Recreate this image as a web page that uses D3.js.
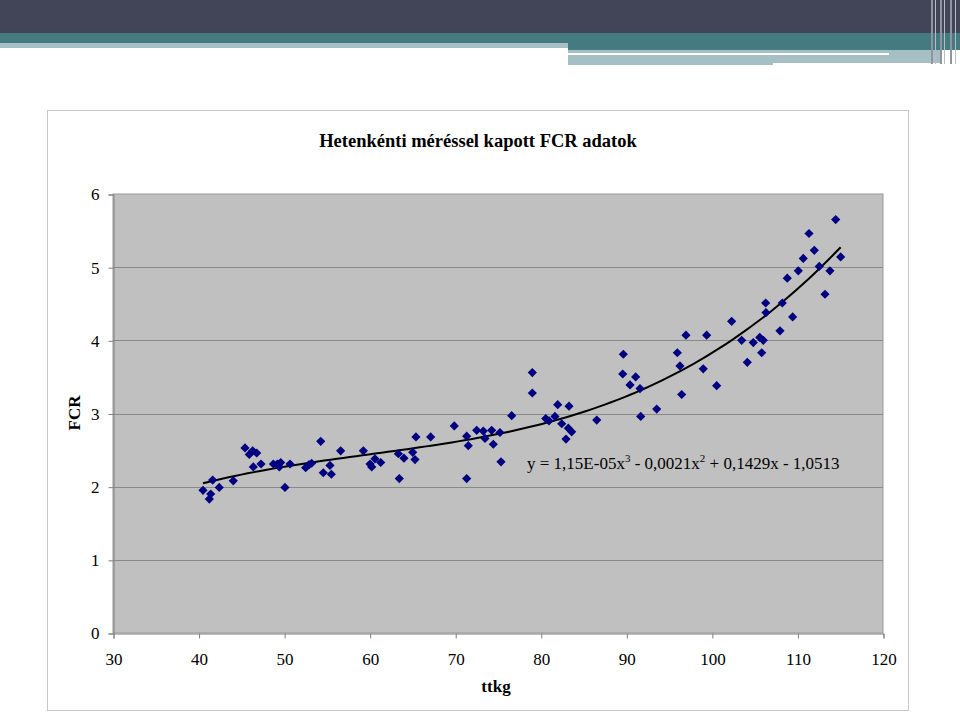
<!DOCTYPE html>
<html>
<head>
<meta charset="utf-8">
<script src="https://cdn.jsdelivr.net/npm/d3@7"></script>
<style>
	body { margin: 0; background: #fff; }
	svg { display: block; }
</style>
</head>
<body>
<svg id="chart" width="960" height="714"></svg>
<script>
// ttkg values
var ttkg = [
	  40.52, 41.26, 41.42, 41.65, 42.42, 44.06, 45.43, 45.93, 46.33, 46.80
	, 46.40, 47.30, 48.74, 49.20, 49.60, 49.44, 50.10, 50.69, 52.52, 52.91
	, 53.22, 54.28, 54.58, 55.36, 55.52, 56.61, 59.26, 60.04, 60.24, 60.62
	, 61.29, 63.46, 63.35, 64.01, 65.03, 65.30, 65.41, 67.13, 69.89, 71.34
	, 71.53, 71.34, 72.51, 73.28, 73.48, 74.26, 74.45, 75.23, 75.35, 76.60
	, 79.01, 79.01, 80.58, 80.96, 81.66, 81.98, 82.45, 83.30, 83.22, 83.61
	, 82.95, 86.54, 89.65, 89.58, 90.43, 91.09, 91.60, 91.68, 93.55, 95.96
	, 96.97, 96.27, 96.47, 98.99, 99.39, 100.56, 102.31, 103.48, 104.14, 104.84
	, 105.59, 106.01, 105.82, 106.29, 106.32, 107.96, 108.23, 109.44, 108.81, 110.10
	, 110.68, 111.35, 111.97, 112.55, 113.22, 113.80, 114.47, 115.05
];
// FCR values, same order
var fcr = [
	  1.95, 1.83, 1.90, 2.09, 1.99, 2.08, 2.53, 2.44, 2.49, 2.46
	, 2.27, 2.31, 2.31, 2.31, 2.33, 2.27, 1.99, 2.31, 2.26, 2.30
	, 2.32, 2.62, 2.19, 2.29, 2.17, 2.49, 2.49, 2.31, 2.27, 2.38
	, 2.33, 2.11, 2.45, 2.39, 2.47, 2.37, 2.68, 2.68, 2.83, 2.69
	, 2.56, 2.11, 2.77, 2.76, 2.66, 2.77, 2.58, 2.74, 2.34, 2.97
	, 3.56, 3.28, 2.93, 2.90, 2.96, 3.12, 2.86, 3.10, 2.80, 2.75
	, 2.65, 2.91, 3.81, 3.54, 3.39, 3.50, 3.34, 2.96, 3.06, 3.83
	, 4.07, 3.65, 3.26, 3.61, 4.07, 3.38, 4.26, 4.00, 3.70, 3.97
	, 4.04, 4.00, 3.83, 4.51, 4.38, 4.13, 4.51, 4.32, 4.85, 4.95
	, 5.12, 5.46, 5.23, 5.01, 4.63, 4.95, 5.65, 5.14
];
var xTicks   = [ 30, 40, 50, 60, 70, 80, 90, 100, 110, 120 ];
var yTicks   = [ 0, 1, 2, 3, 4, 5, 6 ];
var title    = 'Hetenkénti méréssel kapott FCR adatok';
var xTitle   = 'ttkg';
var yTitle   = 'FCR';

var W = 960, H = 714;
var PL = { left: 113, top: 194, right: 883, bottom: 633 }; // plot area
var SERIF = 'Liberation Serif, Times New Roman, serif';
var svg = d3.select( '#chart' );

// slide header bands
var hdr = svg.append( 'g' );
hdr.append( 'rect' ).attr( 'x', 0 ).attr( 'y', 0 ).attr( 'width', W ).attr( 'height', 33 ).attr( 'fill', '#424457' );
hdr.append( 'rect' ).attr( 'x', 0 ).attr( 'y', 33 ).attr( 'width', 568 ).attr( 'height', 10 ).attr( 'fill', '#437b81' );
hdr.append( 'rect' ).attr( 'x', 0 ).attr( 'y', 43 ).attr( 'width', 568 ).attr( 'height', 5 ).attr( 'fill', '#a6bfc4' );
hdr.append( 'rect' ).attr( 'x', 568 ).attr( 'y', 33 ).attr( 'width', W - 568 ).attr( 'height', 17 ).attr( 'fill', '#437b81' );
hdr.append( 'rect' ).attr( 'x', 568 ).attr( 'y', 50 ).attr( 'width', 321 ).attr( 'height', 3 ).attr( 'fill', '#a6bfc4' );
hdr.append( 'rect' ).attr( 'x', 889 ).attr( 'y', 50 ).attr( 'width', 51 ).attr( 'height', 13 ).attr( 'fill', '#a6bfc4' );
hdr.append( 'rect' ).attr( 'x', 568 ).attr( 'y', 55 ).attr( 'width', 205 ).attr( 'height', 10 ).attr( 'fill', '#a6bfc4' );
hdr.append( 'rect' ).attr( 'x', 773 ).attr( 'y', 55 ).attr( 'width', 167 ).attr( 'height', 8 ).attr( 'fill', '#a6bfc4' );
[ 931, 935, 940, 944, 950, 955 ].forEach( function( x, i ) { // vertical stripes at the right
	hdr.append( 'rect' ).attr( 'x', x ).attr( 'y', 0 ).attr( 'width', i % 2 ? 1 : 2 ).attr( 'height', 64 )
		.attr( 'fill', i % 2 ? '#b7bcc4' : '#8f94a0' );
} );

// chart frame
svg.append( 'rect' )
	.attr( 'x', 47.5 ).attr( 'y', 110.5 ).attr( 'width', 861 ).attr( 'height', 600 )
	.attr( 'fill', '#fff' ).attr( 'stroke', '#c8c8c8' );

svg.append( 'text' )
	.attr( 'x', 478 ).attr( 'y', 147 )
	.attr( 'text-anchor', 'middle' )
	.style( 'font-family', SERIF ).style( 'font-size', '18.5px' ).style( 'font-weight', 'bold' )
	.text( title );

var x = d3.scaleLinear().domain( [ 30, 120 ] ).range( [ PL.left, PL.right ] );
var y = d3.scaleLinear().domain( [ 0, 6 ] ).range( [ PL.bottom, PL.top ] );

// plot area + gridlines
svg.append( 'rect' )
	.attr( 'x', PL.left ).attr( 'y', PL.top )
	.attr( 'width', PL.right - PL.left ).attr( 'height', PL.bottom - PL.top )
	.attr( 'fill', '#c0c0c0' ).attr( 'stroke', '#9a9a9a' );
svg.append( 'g' )
	.selectAll( 'line' )
	.data( yTicks.filter( d => d > 0 && d < 6 ) )
	.join( 'line' )
	.attr( 'x1', PL.left ).attr( 'x2', PL.right )
	.attr( 'y1', d => Math.round( y( d ) ) + 0.5 ).attr( 'y2', d => Math.round( y( d ) ) + 0.5 )
	.attr( 'stroke', '#8a8a8a' );

// axes
var yAxis = svg.append( 'g' )
	.attr( 'transform', 'translate(' + ( PL.left + 0.5 ) + ',0.5)' )
	.call( d3.axisLeft( y ).tickValues( yTicks ).tickSize( 5 ).tickPadding( 9 ).tickFormat( d3.format( 'd' ) ) );
var xAxis = svg.append( 'g' )
	.attr( 'transform', 'translate(0.5,' + ( PL.bottom + 0.5 ) + ')' )
	.call( d3.axisBottom( x ).tickValues( xTicks ).tickSize( 5 ).tickPadding( 14 ).tickFormat( d3.format( 'd' ) ) );
[ yAxis, xAxis ].forEach( function( g ) {
	g.attr( 'font-family', null ).attr( 'font-size', null );
	g.select( '.domain' ).attr( 'stroke', '#808080' );
	g.selectAll( '.tick line' ).attr( 'stroke', '#808080' );
	g.selectAll( 'text' )
		.style( 'font-family', SERIF )
		.style( 'font-size', '17px' ).attr( 'fill', '#000' );
} );

svg.append( 'text' )
	.attr( 'x', 496 ).attr( 'y', 692 )
	.attr( 'text-anchor', 'middle' )
	.style( 'font-family', SERIF ).style( 'font-size', '17px' ).style( 'font-weight', 'bold' )
	.text( xTitle );
svg.append( 'text' )
	.attr( 'transform', 'translate(80,413) rotate(-90)' )
	.attr( 'text-anchor', 'middle' )
	.style( 'font-family', SERIF ).style( 'font-size', '17px' ).style( 'font-weight', 'bold' )
	.text( yTitle );

// cubic least squares trendline from the points
function cubicFit( xs, ys ) {
	var c = 80, n = 4, A = [], i, j, k;
	for ( i = 0; i < n; i++ ) { A.push( [] ); for ( j = 0; j <= n; j++ ) A[ i ].push( 0 ); }
	xs.forEach( function( xv, p ) {
		var t = xv - c;
		for ( i = 0; i < n; i++ ) {
			for ( j = 0; j < n; j++ ) A[ i ][ j ] += Math.pow( t, i + j );
			A[ i ][ n ] += Math.pow( t, i ) * ys[ p ];
		}
	} );
	for ( i = 0; i < n; i++ ) {
		for ( k = i + 1; k < n; k++ ) {
			var f = A[ k ][ i ] / A[ i ][ i ];
			for ( j = i; j <= n; j++ ) A[ k ][ j ] -= f * A[ i ][ j ];
		}
	}
	var b = [ 0, 0, 0, 0 ];
	for ( i = n - 1; i >= 0; i-- ) {
		var s = A[ i ][ n ];
		for ( j = i + 1; j < n; j++ ) s -= A[ i ][ j ] * b[ j ];
		b[ i ] = s / A[ i ][ i ];
	}
	return function( xv ) { var t = xv - c; return b[ 0 ] + b[ 1 ] * t + b[ 2 ] * t * t + b[ 3 ] * t * t * t; };
}
var fit  = cubicFit( ttkg, fcr );
var x0   = d3.min( ttkg ), x1 = d3.max( ttkg );
var line = d3.line().x( d => x( d ) ).y( d => y( fit( d ) ) );
svg.append( 'path' )
	.datum( d3.range( 0, 101 ).map( i => x0 + ( x1 - x0 ) * i / 100 ) )
	.attr( 'd', line )
	.attr( 'fill', 'none' ).attr( 'stroke', '#000' ).attr( 'stroke-width', 2 );

// diamonds
var pts = ttkg.map( ( d, i ) => [ d, fcr[ i ] ] );
var r = 4.6;
svg.append( 'g' )
	.selectAll( 'path' )
	.data( pts )
	.join( 'path' )
	.attr( 'd', 'M0,' + -r + 'L' + r + ',0L0,' + r + 'L' + -r + ',0Z' )
	.attr( 'transform', d => 'translate(' + x( d[ 0 ] ) + ',' + y( d[ 1 ] ) + ')' )
	.attr( 'fill', '#000080' );

// trendline equation
var eq = svg.append( 'text' )
	.attr( 'x', 527 ).attr( 'y', 469 )
	.style( 'font-family', SERIF ).style( 'font-size', '17px' );
eq.append( 'tspan' ).text( 'y = 1,15E-05x' );
eq.append( 'tspan' ).style( 'font-size', '11px' ).attr( 'dy', -7 ).text( '3' );
eq.append( 'tspan' ).attr( 'dy', 7 ).text( ' - 0,0021x' );
eq.append( 'tspan' ).style( 'font-size', '11px' ).attr( 'dy', -7 ).text( '2' );
eq.append( 'tspan' ).attr( 'dy', 7 ).text( ' + 0,1429x - 1,0513' );
</script>
</body>
</html>
